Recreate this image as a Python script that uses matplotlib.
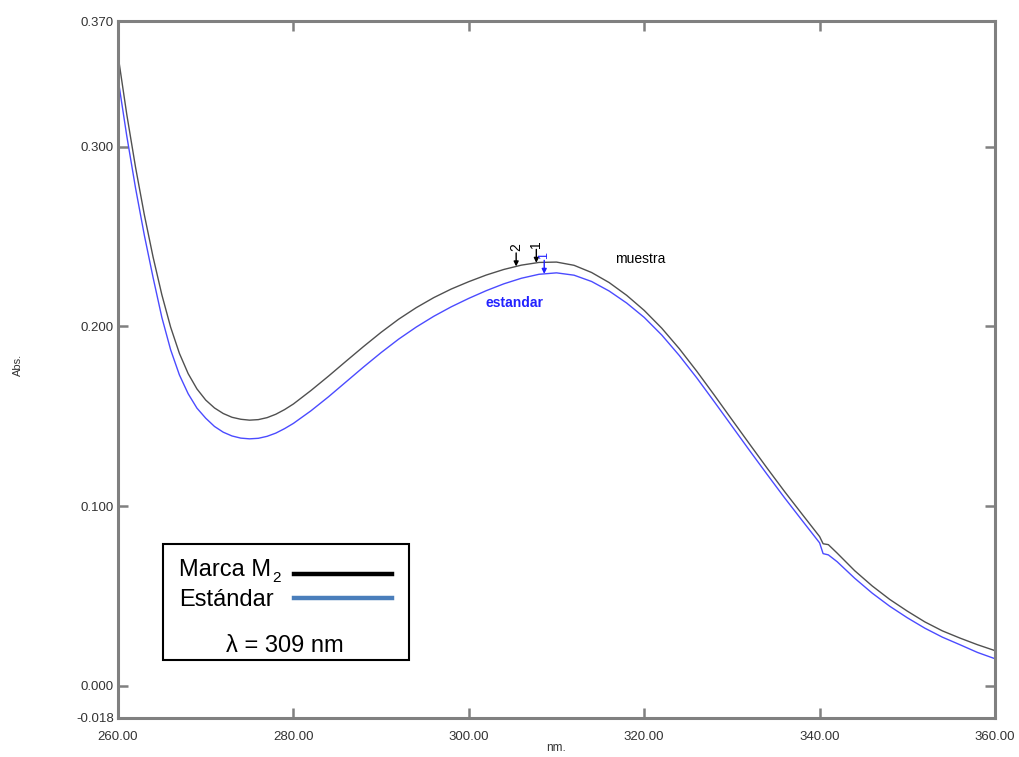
import numpy as np
import matplotlib
matplotlib.use("Agg")
import matplotlib.pyplot as plt
from matplotlib.patches import Rectangle
from matplotlib.lines import Line2D

plt.rcParams['font.family'] = ['Liberation Sans', 'DejaVu Sans']

# Wavelengths (nm) shared by both spectra
wavelength = [260, 261, 262, 263, 264, 265, 266, 267, 268, 269, 270, 271, 272, 273, 274,
              275, 276, 277, 278, 279, 280, 282, 284, 286, 288, 290, 292, 294, 296, 298,
              300, 302, 304, 306, 308, 310, 312, 314, 316, 318, 320, 322, 324, 326, 328,
              330, 332, 334, 336, 338, 340, 340.4, 341, 342, 344, 346, 348, 350, 352, 354,
              356, 358, 360]

# Absorbance of the sample (muestra)
abs_muestra = [0.3510, 0.3180, 0.2886, 0.2622, 0.2386, 0.2176, 0.1996, 0.1850, 0.1737,
               0.1652, 0.1590, 0.1546, 0.1515, 0.1494, 0.1483, 0.1478, 0.1481, 0.1492,
               0.1511, 0.1537, 0.1568, 0.1643, 0.1723, 0.1806, 0.1888, 0.1967, 0.2040,
               0.2104, 0.2160, 0.2208, 0.2249, 0.2286, 0.2317, 0.2341, 0.2356, 0.2358,
               0.2340, 0.2300, 0.2244, 0.2173, 0.2089, 0.1990, 0.1876, 0.1750, 0.1617,
               0.1481, 0.1346, 0.1212, 0.1081, 0.0955, 0.0830, 0.0790, 0.0785, 0.0738,
               0.0640, 0.0555, 0.0480, 0.0415, 0.0355, 0.0305, 0.0265, 0.0228, 0.0195]

# Absorbance of the reference standard (estandar)
abs_estandar = [0.3380, 0.3060, 0.2770, 0.2508, 0.2272, 0.2050, 0.1870, 0.1730, 0.1625,
                0.1545, 0.1489, 0.1443, 0.1411, 0.1390, 0.1378, 0.1374, 0.1377, 0.1388,
                0.1406, 0.1431, 0.1460, 0.1530, 0.1608, 0.1691, 0.1774, 0.1854, 0.1929,
                0.1996, 0.2056, 0.2109, 0.2156, 0.2199, 0.2237, 0.2268, 0.2290, 0.2298,
                0.2285, 0.2250, 0.2197, 0.2130, 0.2050, 0.1952, 0.1838, 0.1713, 0.1580,
                0.1445, 0.1310, 0.1177, 0.1046, 0.0920, 0.0795, 0.0735, 0.0728, 0.0690,
                0.0598, 0.0515, 0.0442, 0.0378, 0.0320, 0.0270, 0.0228, 0.0185, 0.0150]

# Peak picks (wavelength, label) on each trace
picks_muestra = [(305.4, "2"), (307.7, "1")]
picks_estandar = [(308.6, "1")]

x_ticks = [260, 280, 300, 320, 340, 360]
x_ticklabels = ["260.00", "280.00", "300.00", "320.00", "340.00", "360.00"]
y_ticks = [-0.018, 0.0, 0.1, 0.2, 0.3, 0.37]
y_ticklabels = ["-0.018", "0.000", "0.100", "0.200", "0.300", "0.370"]

W, H = 1020, 757
fig = plt.figure(figsize=(W / 100, H / 100), dpi=100)
ax = fig.add_axes([118 / W, 1 - 718 / H, (995 - 118) / W, (718 - 21) / H])

c_muestra = '#505050'
c_estandar = '#4b4bff'
ax.plot(wavelength, abs_muestra, color=c_muestra, lw=1.0)
ax.plot(wavelength, abs_estandar, color=c_estandar, lw=1.0)

ax.set_xlim(260, 360)
ax.set_ylim(-0.018, 0.370)

spine_c = '#808080'
for s in ax.spines.values():
    s.set_color(spine_c)
    s.set_linewidth(2.2)

ax.set_xticks(x_ticks)
ax.set_xticklabels(x_ticklabels)
ax.set_yticks(y_ticks)
ax.set_yticklabels(y_ticklabels)
ax.tick_params(axis='both', direction='in', length=7, width=1.8, color=spine_c,
               labelsize=9.5, labelcolor='#333333', top=True, right=True)
ax.tick_params(axis='x', pad=9)
ax.tick_params(axis='y', pad=3)

fig.text(18 / W, 1 - 365 / H, "Abs.", rotation=90, ha='center', va='center',
         fontsize=8, color='#333333')
fig.text(556 / W, 1 - 748 / H, "nm.", ha='center', va='center', fontsize=8.5,
         color='#333333')

# Peak pick arrows with rotated labels
def mark(abs_vals, picks, color, fs):
    for x, lab in picks:
        yv = np.interp(x, wavelength, abs_vals)
        ax.annotate('', xy=(x, yv), xytext=(x, yv + 0.0075),
                    arrowprops=dict(arrowstyle='-|>', color=color, lw=1.0,
                                    mutation_scale=7, shrinkA=0, shrinkB=0))
        ax.text(x, yv + 0.0085, lab, rotation=90, ha='center', va='bottom',
                fontsize=fs, color=color)

mark(abs_muestra, picks_muestra, 'black', 10)
mark(abs_estandar, picks_estandar, '#2020ff', 9)

ax.text(319.6, 0.2374, "muestra", ha='center', va='center', fontsize=10, color='black')
ax.text(305.2, 0.2128, "estandar", ha='center', va='center', fontsize=10,
        color='#2222ff', fontweight='bold')

# Legend box
fig.add_artist(Rectangle((163 / W, 1 - 660 / H), (409 - 163) / W, (660 - 544) / H,
                         transform=fig.transFigure, fill=False, edgecolor='black', lw=1.5))
t = fig.text(179 / W, 1 - 570 / H, "Marca M", ha='left', va='center', fontsize=17,
             color='black')
fig.canvas.draw()
bb = t.get_window_extent()
fig.text((bb.x1 + 1) / W, 1 - 578 / H, "2", ha='left', va='center', fontsize=11,
         color='black')
fig.add_artist(Line2D([294 / W, 392 / W], [1 - 574 / H, 1 - 574 / H],
                      transform=fig.transFigure, color='black', lw=3.2))
fig.text(179 / W, 1 - 600 / H, "Estándar", ha='left', va='center', fontsize=17,
         color='black')
fig.add_artist(Line2D([294 / W, 392 / W], [1 - 598 / H, 1 - 598 / H],
                      transform=fig.transFigure, color='#4a7ebb', lw=3.2))
fig.text(285 / W, 1 - 646 / H, "λ = 309 nm", ha='center', va='center', fontsize=17,
         color='black')

fig.savefig("out.png", dpi=100)
